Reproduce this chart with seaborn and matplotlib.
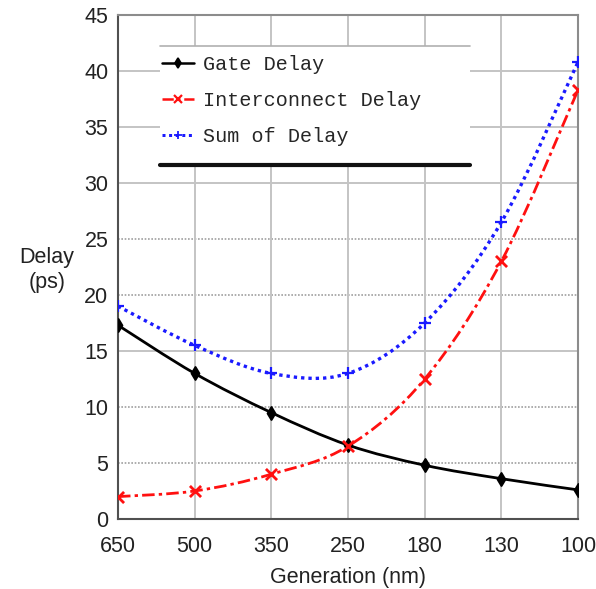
import numpy as np
import matplotlib
matplotlib.use("Agg")
import matplotlib.pyplot as plt
from matplotlib.path import Path
from matplotlib.patches import PathPatch, Rectangle
from matplotlib.lines import Line2D
import seaborn as sns

# ---- data ----
generations = ["650", "500", "350", "250", "180", "130", "100"]
gate_delay = [17.3, 13.0, 9.5, 6.6, 4.8, 3.6, 2.6]
interconnect_delay = [2.0, 2.5, 4.0, 6.5, 12.5, 23.0, 38.3]
sum_delay = [19.0, 15.5, 13.0, 13.0, 17.5, 26.5, 40.8]
series_names = ["Gate Delay", "Interconnect Delay", "Sum of Delay"]
y_ticks = [0, 5, 10, 15, 20, 25, 30, 35, 40, 45]

sns.set_style("white")
plt.rcParams["font.family"] = ["Liberation Sans", "DejaVu Sans"]

fig = plt.figure(figsize=(5.96, 5.89), dpi=100)
ax = fig.add_axes([118 / 596, 1 - 519 / 589, 460 / 596, 504 / 589])

xpos = np.arange(len(generations))


def smooth_path(xs, ys):
    pts = np.column_stack([xs, ys]).astype(float)
    ext = np.vstack([pts[0], pts, pts[-1]])
    verts = [tuple(pts[0])]
    codes = [Path.MOVETO]
    for i in range(len(pts) - 1):
        p0, p1, p2, p3 = ext[i], ext[i + 1], ext[i + 2], ext[i + 3]
        c1 = p1 + (p2 - p0) / 6.0
        c2 = p2 - (p3 - p1) / 6.0
        verts += [tuple(c1), tuple(c2), tuple(p2)]
        codes += [Path.CURVE4] * 3
    return Path(verts, codes)


# ---- grid ----
grid_c = "#c4c4c4"
for y in y_ticks[1:-1]:
    if y in (15, 30, 35, 40):
        ax.axhline(y, color=grid_c, lw=1.4, zorder=0)
    else:
        ax.axhline(y, color="#a0a0a0", lw=1.2, ls=(0, (1, 1)), zorder=0)
for x in xpos[1:-1]:
    ax.axvline(x, color=grid_c, lw=1.4, zorder=0)

# ---- legend box background ----
lx0, lx1 = (160 - 118) / 460, (470 - 118) / 460
ly0, ly1 = 1 - (165 - 15) / 504, 1 - (46 - 15) / 504
ax.add_patch(Rectangle((lx0, ly0), lx1 - lx0, ly1 - ly0, transform=ax.transAxes,
                       facecolor="white", edgecolor="none", zorder=1))
ax.add_line(Line2D([lx0, lx1], [ly1, ly1], transform=ax.transAxes,
                   color="#b0b0b0", lw=1.2, zorder=2))
ax.add_line(Line2D([lx0, lx1], [ly0, ly0], transform=ax.transAxes,
                   color="#111111", lw=3.0, zorder=2))

# ---- series ----
styles = [
    dict(color="black", ls="-", marker="d", ms=6.5, mew=1.5, lw=2.0),
    dict(color="#ff1010", ls=(0, (4.5, 1.5, 1.2, 1.5)), marker="x", ms=8, mew=2.0, lw=2.0),
    dict(color="#1a1aff", ls=(0, (1, 1.2)), marker="+", ms=8, mew=1.6, lw=2.4),
]
all_vals = [gate_delay, interconnect_delay, sum_delay]

for vals, st in zip(all_vals, styles):
    patch = PathPatch(smooth_path(xpos, vals), facecolor="none", edgecolor=st["color"],
                      lw=st["lw"], linestyle=st["ls"], zorder=3, capstyle="butt")
    ax.add_patch(patch)
    sns.scatterplot(x=xpos, y=vals, marker=st["marker"], s=st["ms"] ** 2,
                    color=st["color"], edgecolor=st["color"], linewidth=st["mew"],
                    ax=ax, zorder=4, legend=False)

handles = [Line2D([], [], color=st["color"], ls=st["ls"], lw=st["lw"] * 0.9,
                  marker=st["marker"], ms=st["ms"] * 0.75, mew=st["mew"] * 0.8)
           for st in styles]
ax.legend(handles, series_names, loc="upper left",
          bbox_to_anchor=((162 - 118) / 460, 1 - (55 - 15) / 504),
          frameon=False, borderpad=0, borderaxespad=0, handlelength=1.6,
          handletextpad=0.45, labelspacing=0.84,
          prop=dict(family=["Liberation Mono", "DejaVu Sans Mono"], size=14.5))

# ---- axes ----
ax.set_xlim(0, len(generations) - 1)
ax.set_ylim(0, 45)
ax.set_xticks(xpos)
ax.set_xticklabels(generations)
ax.set_yticks(y_ticks)
ax.tick_params(axis="both", length=0, labelsize=15.5, colors="#222222")
ax.tick_params(axis="y", pad=7)
ax.tick_params(axis="x", pad=12)
ax.set_xlabel("")
ax.set_ylabel("")
for side in ("left", "bottom"):
    ax.spines[side].set_color("#505050")
    ax.spines[side].set_linewidth(1.5)
for side in ("top", "right"):
    ax.spines[side].set_color("#8c8c8c")
    ax.spines[side].set_linewidth(1.5)
    ax.spines[side].set_visible(True)

fig.text(47 / 596, 1 - 270 / 589, "Delay\n(ps)", ha="center", va="center",
         fontsize=15.5, color="#222222", linespacing=1.25)
fig.text(348 / 596, 1 - 577 / 589, "Generation (nm)", ha="center", va="center",
         fontsize=15.5, color="#222222")

fig.savefig("out.png", dpi=100, facecolor="white")
